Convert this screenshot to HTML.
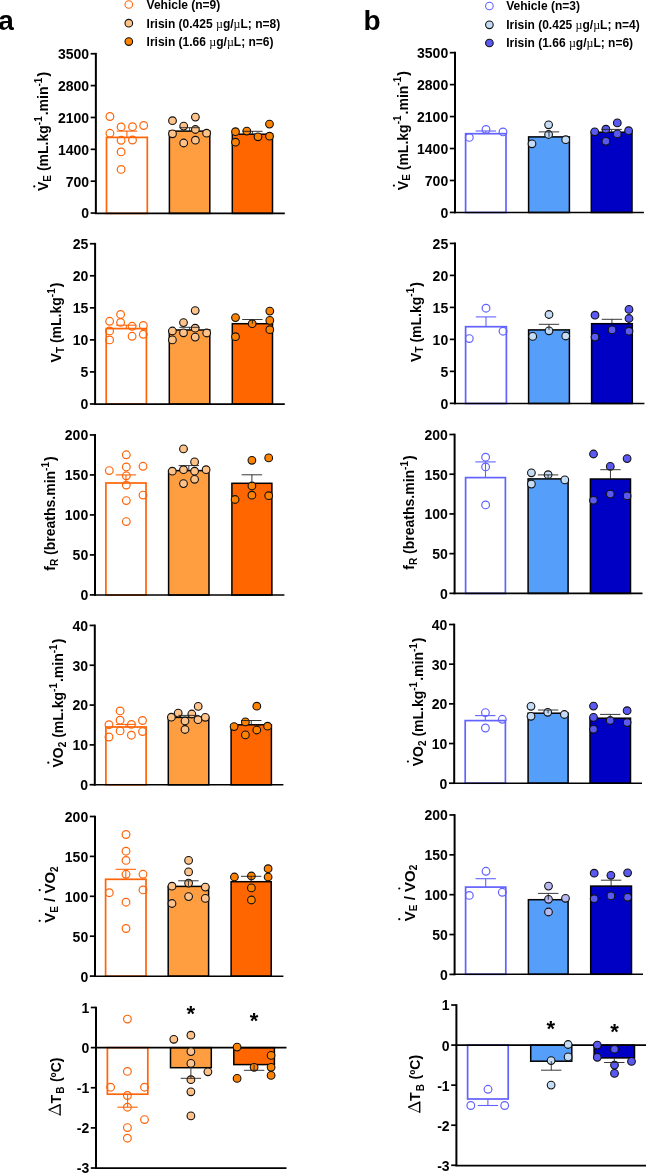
<!DOCTYPE html>
<html><head><meta charset="utf-8"><style>
html,body{margin:0;padding:0;background:#fff;overflow:hidden;}
svg{display:block;will-change:transform;}
text{font-family:"Liberation Sans", sans-serif;font-weight:bold;fill:#000;}
.tk{font-size:14px;}
.yt{font-size:14px;}
.lg{font-size:12px;}
.mu{font-weight:normal;font-family:"Liberation Serif",serif;}
.pl{font-size:28px;}
.star{font-size:22px;}
</style></head><body>
<svg width="647" height="1174" viewBox="0 0 647 1174">
<rect width="647" height="1174" fill="#fff"/>
<text x="-1.8" y="30" class="pl">a</text>
<text x="363.5" y="30" class="pl">b</text>
<circle cx="128.8" cy="4.5" r="3.8" fill="none" stroke="#FF6408" stroke-width="1.1"/>
<text x="146.6" y="8.8" class="lg">Vehicle (n=9)</text>
<circle cx="128.8" cy="23.2" r="3.8" fill="#FFC38A" stroke="#111" stroke-width="1.1"/>
<text x="146.6" y="27.5" class="lg">Irisin (0.425 <tspan class="mu">µ</tspan>g/<tspan class="mu">µ</tspan>L; n=8)</text>
<circle cx="128.8" cy="41.6" r="3.8" fill="#FF8200" stroke="#111" stroke-width="1.1"/>
<text x="146.6" y="45.9" class="lg">Irisin (1.66 <tspan class="mu">µ</tspan>g/<tspan class="mu">µ</tspan>L; n=6)</text>
<circle cx="489.4" cy="6.0" r="3.8" fill="none" stroke="#6262FF" stroke-width="1.1"/>
<text x="506.2" y="10.3" class="lg">Vehicle (n=3)</text>
<circle cx="489.4" cy="24.8" r="3.8" fill="#C5DCF7" stroke="#111" stroke-width="1.1"/>
<text x="506.2" y="29.1" class="lg">Irisin (0.425 <tspan class="mu">µ</tspan>g/<tspan class="mu">µ</tspan>L; n=4)</text>
<circle cx="489.4" cy="43.0" r="3.8" fill="#5A5AF2" stroke="#111" stroke-width="1.1"/>
<text x="506.2" y="47.3" class="lg">Irisin (1.66 <tspan class="mu">µ</tspan>g/<tspan class="mu">µ</tspan>L; n=6)</text>
<line x1="95.87" y1="52.89" x2="95.87" y2="213.9" stroke="#000" stroke-width="2"/>
<line x1="90.67" y1="53.74" x2="95.87" y2="53.74" stroke="#000" stroke-width="1.7"/>
<text x="89.07" y="59.14" text-anchor="end" class="tk">3500</text>
<line x1="90.67" y1="85.6" x2="95.87" y2="85.6" stroke="#000" stroke-width="1.7"/>
<text x="89.07" y="91" text-anchor="end" class="tk">2800</text>
<line x1="90.67" y1="117.46" x2="95.87" y2="117.46" stroke="#000" stroke-width="1.7"/>
<text x="89.07" y="122.86" text-anchor="end" class="tk">2100</text>
<line x1="90.67" y1="149.33" x2="95.87" y2="149.33" stroke="#000" stroke-width="1.7"/>
<text x="89.07" y="154.73" text-anchor="end" class="tk">1400</text>
<line x1="90.67" y1="181.19" x2="95.87" y2="181.19" stroke="#000" stroke-width="1.7"/>
<text x="89.07" y="186.59" text-anchor="end" class="tk">700</text>
<line x1="90.67" y1="213.05" x2="95.87" y2="213.05" stroke="#000" stroke-width="1.7"/>
<text x="89.07" y="218.45" text-anchor="end" class="tk">0</text>
<rect x="106.5" y="137.4" width="40.8" height="76" fill="#fff" stroke="#FF6408" stroke-width="1.7"/>
<rect x="169.4" y="131.1" width="40.4" height="82.3" fill="#FE9E40" stroke="#000" stroke-width="1.5"/>
<rect x="232.3" y="134.2" width="40.2" height="79.2" fill="#FF6600" stroke="#000" stroke-width="1.5"/>
<line x1="94.87" y1="213.4" x2="284.8" y2="213.4" stroke="#000" stroke-width="1.6"/>
<circle cx="109.9" cy="116.5" r="3.85" fill="none" stroke="#FF6408" stroke-width="1.2"/>
<circle cx="121.1" cy="126.9" r="3.85" fill="none" stroke="#FF6408" stroke-width="1.2"/>
<circle cx="132.5" cy="126.7" r="3.85" fill="none" stroke="#FF6408" stroke-width="1.2"/>
<circle cx="143.7" cy="125.5" r="3.85" fill="none" stroke="#FF6408" stroke-width="1.2"/>
<circle cx="109.9" cy="133.3" r="3.85" fill="none" stroke="#FF6408" stroke-width="1.2"/>
<circle cx="121.1" cy="140.3" r="3.85" fill="none" stroke="#FF6408" stroke-width="1.2"/>
<circle cx="132.5" cy="140" r="3.85" fill="none" stroke="#FF6408" stroke-width="1.2"/>
<circle cx="121.1" cy="151.9" r="3.85" fill="none" stroke="#FF6408" stroke-width="1.2"/>
<circle cx="121.1" cy="169.4" r="3.85" fill="none" stroke="#FF6408" stroke-width="1.2"/>
<circle cx="172.5" cy="120.7" r="3.85" fill="#FFC38A" stroke="#111" stroke-width="1.1"/>
<circle cx="195.4" cy="117.1" r="3.85" fill="#FFC38A" stroke="#111" stroke-width="1.1"/>
<circle cx="183.7" cy="126.1" r="3.85" fill="#FFC38A" stroke="#111" stroke-width="1.1"/>
<circle cx="195.4" cy="129.5" r="3.85" fill="#FFC38A" stroke="#111" stroke-width="1.1"/>
<circle cx="172.5" cy="133.8" r="3.85" fill="#FFC38A" stroke="#111" stroke-width="1.1"/>
<circle cx="206.6" cy="133.2" r="3.85" fill="#FFC38A" stroke="#111" stroke-width="1.1"/>
<circle cx="183.7" cy="143" r="3.85" fill="#FFC38A" stroke="#111" stroke-width="1.1"/>
<circle cx="195.4" cy="140.2" r="3.85" fill="#FFC38A" stroke="#111" stroke-width="1.1"/>
<circle cx="235.5" cy="131.7" r="3.85" fill="#FF8200" stroke="#111" stroke-width="1.1"/>
<circle cx="246.8" cy="131.1" r="3.85" fill="#FF8200" stroke="#111" stroke-width="1.1"/>
<circle cx="269.5" cy="124.1" r="3.85" fill="#FF8200" stroke="#111" stroke-width="1.1"/>
<circle cx="258" cy="136.8" r="3.85" fill="#FF8200" stroke="#111" stroke-width="1.1"/>
<circle cx="269.5" cy="136.2" r="3.85" fill="#FF8200" stroke="#111" stroke-width="1.1"/>
<circle cx="235.5" cy="142.2" r="3.85" fill="#FF8200" stroke="#111" stroke-width="1.1"/>
<line x1="126.9" y1="137.4" x2="126.9" y2="131.1" stroke="#FF6408" stroke-width="1.1"/>
<line x1="116.7" y1="131.1" x2="137.1" y2="131.1" stroke="#FF6408" stroke-width="1.1"/>
<line x1="189.6" y1="131.1" x2="189.6" y2="127.7" stroke="#222" stroke-width="0.9"/>
<line x1="179.4" y1="127.7" x2="199.8" y2="127.7" stroke="#222" stroke-width="0.9"/>
<line x1="252.4" y1="134.2" x2="252.4" y2="131.3" stroke="#222" stroke-width="0.9"/>
<line x1="242.2" y1="131.3" x2="262.6" y2="131.3" stroke="#222" stroke-width="0.9"/>
<line x1="95.1" y1="242.89" x2="95.1" y2="404.82" stroke="#000" stroke-width="2"/>
<line x1="89.9" y1="243.74" x2="95.1" y2="243.74" stroke="#000" stroke-width="1.7"/>
<text x="88.3" y="249.14" text-anchor="end" class="tk">25</text>
<line x1="89.9" y1="275.79" x2="95.1" y2="275.79" stroke="#000" stroke-width="1.7"/>
<text x="88.3" y="281.19" text-anchor="end" class="tk">20</text>
<line x1="89.9" y1="307.83" x2="95.1" y2="307.83" stroke="#000" stroke-width="1.7"/>
<text x="88.3" y="313.23" text-anchor="end" class="tk">15</text>
<line x1="89.9" y1="339.88" x2="95.1" y2="339.88" stroke="#000" stroke-width="1.7"/>
<text x="88.3" y="345.28" text-anchor="end" class="tk">10</text>
<line x1="89.9" y1="371.92" x2="95.1" y2="371.92" stroke="#000" stroke-width="1.7"/>
<text x="88.3" y="377.32" text-anchor="end" class="tk">5</text>
<line x1="89.9" y1="403.97" x2="95.1" y2="403.97" stroke="#000" stroke-width="1.7"/>
<text x="88.3" y="409.37" text-anchor="end" class="tk">0</text>
<rect x="106.2" y="328.6" width="40.2" height="75.5" fill="#fff" stroke="#FF6408" stroke-width="1.7"/>
<rect x="169.3" y="330" width="40.5" height="74.1" fill="#FE9E40" stroke="#000" stroke-width="1.5"/>
<rect x="232.3" y="323.7" width="40.2" height="80.4" fill="#FF6600" stroke="#000" stroke-width="1.5"/>
<line x1="94.1" y1="404.1" x2="284.8" y2="404.1" stroke="#000" stroke-width="1.6"/>
<circle cx="109.6" cy="321.3" r="3.85" fill="none" stroke="#FF6408" stroke-width="1.2"/>
<circle cx="120.6" cy="314.4" r="3.85" fill="none" stroke="#FF6408" stroke-width="1.2"/>
<circle cx="120.6" cy="322.4" r="3.85" fill="none" stroke="#FF6408" stroke-width="1.2"/>
<circle cx="132.1" cy="326.3" r="3.85" fill="none" stroke="#FF6408" stroke-width="1.2"/>
<circle cx="143.3" cy="325.5" r="3.85" fill="none" stroke="#FF6408" stroke-width="1.2"/>
<circle cx="109.6" cy="330.9" r="3.85" fill="none" stroke="#FF6408" stroke-width="1.2"/>
<circle cx="109.6" cy="339.9" r="3.85" fill="none" stroke="#FF6408" stroke-width="1.2"/>
<circle cx="132.1" cy="336.3" r="3.85" fill="none" stroke="#FF6408" stroke-width="1.2"/>
<circle cx="143.3" cy="334.3" r="3.85" fill="none" stroke="#FF6408" stroke-width="1.2"/>
<circle cx="195.2" cy="310.6" r="3.85" fill="#FFC38A" stroke="#111" stroke-width="1.1"/>
<circle cx="183.5" cy="322.6" r="3.85" fill="#FFC38A" stroke="#111" stroke-width="1.1"/>
<circle cx="195.2" cy="328.2" r="3.85" fill="#FFC38A" stroke="#111" stroke-width="1.1"/>
<circle cx="172.4" cy="331" r="3.85" fill="#FFC38A" stroke="#111" stroke-width="1.1"/>
<circle cx="183.5" cy="332.8" r="3.85" fill="#FFC38A" stroke="#111" stroke-width="1.1"/>
<circle cx="206.7" cy="333" r="3.85" fill="#FFC38A" stroke="#111" stroke-width="1.1"/>
<circle cx="195.2" cy="337.1" r="3.85" fill="#FFC38A" stroke="#111" stroke-width="1.1"/>
<circle cx="172.4" cy="339.9" r="3.85" fill="#FFC38A" stroke="#111" stroke-width="1.1"/>
<circle cx="235.5" cy="317.6" r="3.85" fill="#FF8200" stroke="#111" stroke-width="1.1"/>
<circle cx="252.2" cy="323.7" r="3.85" fill="#FF8200" stroke="#111" stroke-width="1.1"/>
<circle cx="269.8" cy="311.1" r="3.85" fill="#FF8200" stroke="#111" stroke-width="1.1"/>
<circle cx="269.8" cy="320.4" r="3.85" fill="#FF8200" stroke="#111" stroke-width="1.1"/>
<circle cx="269.8" cy="329.7" r="3.85" fill="#FF8200" stroke="#111" stroke-width="1.1"/>
<circle cx="235.5" cy="336.7" r="3.85" fill="#FF8200" stroke="#111" stroke-width="1.1"/>
<line x1="126.3" y1="328.6" x2="126.3" y2="325.2" stroke="#FF6408" stroke-width="1.1"/>
<line x1="116.1" y1="325.2" x2="136.5" y2="325.2" stroke="#FF6408" stroke-width="1.1"/>
<line x1="189.55" y1="330" x2="189.55" y2="327.3" stroke="#222" stroke-width="0.9"/>
<line x1="179.35" y1="327.3" x2="199.75" y2="327.3" stroke="#222" stroke-width="0.9"/>
<line x1="252.4" y1="323.7" x2="252.4" y2="319.5" stroke="#222" stroke-width="0.9"/>
<line x1="242.2" y1="319.5" x2="262.6" y2="319.5" stroke="#222" stroke-width="0.9"/>
<line x1="95" y1="434.12" x2="95" y2="595.75" stroke="#000" stroke-width="2"/>
<line x1="89.8" y1="434.97" x2="95" y2="434.97" stroke="#000" stroke-width="1.7"/>
<text x="88.2" y="440.37" text-anchor="end" class="tk">200</text>
<line x1="89.8" y1="474.95" x2="95" y2="474.95" stroke="#000" stroke-width="1.7"/>
<text x="88.2" y="480.35" text-anchor="end" class="tk">150</text>
<line x1="89.8" y1="514.93" x2="95" y2="514.93" stroke="#000" stroke-width="1.7"/>
<text x="88.2" y="520.33" text-anchor="end" class="tk">100</text>
<line x1="89.8" y1="554.92" x2="95" y2="554.92" stroke="#000" stroke-width="1.7"/>
<text x="88.2" y="560.32" text-anchor="end" class="tk">50</text>
<line x1="89.8" y1="594.9" x2="95" y2="594.9" stroke="#000" stroke-width="1.7"/>
<text x="88.2" y="600.3" text-anchor="end" class="tk">0</text>
<rect x="105.9" y="483" width="40.1" height="112.05" fill="#fff" stroke="#FF6408" stroke-width="1.7"/>
<rect x="168.6" y="470.6" width="40.4" height="124.45" fill="#FE9E40" stroke="#000" stroke-width="1.5"/>
<rect x="231.9" y="483.3" width="40" height="111.75" fill="#FF6600" stroke="#000" stroke-width="1.5"/>
<line x1="94" y1="595.05" x2="284.4" y2="595.05" stroke="#000" stroke-width="1.6"/>
<circle cx="126.3" cy="454.8" r="3.85" fill="none" stroke="#FF6408" stroke-width="1.2"/>
<circle cx="109.3" cy="470.6" r="3.85" fill="none" stroke="#FF6408" stroke-width="1.2"/>
<circle cx="126.3" cy="466.9" r="3.85" fill="none" stroke="#FF6408" stroke-width="1.2"/>
<circle cx="143" cy="466.3" r="3.85" fill="none" stroke="#FF6408" stroke-width="1.2"/>
<circle cx="126.3" cy="475.8" r="3.85" fill="none" stroke="#FF6408" stroke-width="1.2"/>
<circle cx="126.3" cy="485.1" r="3.85" fill="none" stroke="#FF6408" stroke-width="1.2"/>
<circle cx="143" cy="495.1" r="3.85" fill="none" stroke="#FF6408" stroke-width="1.2"/>
<circle cx="126.3" cy="500.6" r="3.85" fill="none" stroke="#FF6408" stroke-width="1.2"/>
<circle cx="126.3" cy="521.6" r="3.85" fill="none" stroke="#FF6408" stroke-width="1.2"/>
<circle cx="183.5" cy="448.9" r="3.85" fill="#FFC38A" stroke="#111" stroke-width="1.1"/>
<circle cx="194.6" cy="461.9" r="3.85" fill="#FFC38A" stroke="#111" stroke-width="1.1"/>
<circle cx="172.3" cy="471.2" r="3.85" fill="#FFC38A" stroke="#111" stroke-width="1.1"/>
<circle cx="183.5" cy="469.7" r="3.85" fill="#FFC38A" stroke="#111" stroke-width="1.1"/>
<circle cx="194.6" cy="471.2" r="3.85" fill="#FFC38A" stroke="#111" stroke-width="1.1"/>
<circle cx="206.1" cy="469.7" r="3.85" fill="#FFC38A" stroke="#111" stroke-width="1.1"/>
<circle cx="194.6" cy="479.3" r="3.85" fill="#FFC38A" stroke="#111" stroke-width="1.1"/>
<circle cx="183.5" cy="483.6" r="3.85" fill="#FFC38A" stroke="#111" stroke-width="1.1"/>
<circle cx="251.9" cy="460.3" r="3.85" fill="#FF8200" stroke="#111" stroke-width="1.1"/>
<circle cx="268.7" cy="457.9" r="3.85" fill="#FF8200" stroke="#111" stroke-width="1.1"/>
<circle cx="251.9" cy="486" r="3.85" fill="#FF8200" stroke="#111" stroke-width="1.1"/>
<circle cx="251.9" cy="495.2" r="3.85" fill="#FF8200" stroke="#111" stroke-width="1.1"/>
<circle cx="268.7" cy="495.7" r="3.85" fill="#FF8200" stroke="#111" stroke-width="1.1"/>
<circle cx="235.1" cy="499.5" r="3.85" fill="#FF8200" stroke="#111" stroke-width="1.1"/>
<line x1="125.95" y1="483" x2="125.95" y2="474.9" stroke="#FF6408" stroke-width="1.1"/>
<line x1="115.75" y1="474.9" x2="136.15" y2="474.9" stroke="#FF6408" stroke-width="1.1"/>
<line x1="188.8" y1="470.6" x2="188.8" y2="465.6" stroke="#222" stroke-width="0.9"/>
<line x1="178.6" y1="465.6" x2="199" y2="465.6" stroke="#222" stroke-width="0.9"/>
<line x1="251.9" y1="483.3" x2="251.9" y2="474.8" stroke="#222" stroke-width="0.9"/>
<line x1="241.7" y1="474.8" x2="262.1" y2="474.8" stroke="#222" stroke-width="0.9"/>
<line x1="94.8" y1="624.58" x2="94.8" y2="785.58" stroke="#000" stroke-width="2"/>
<line x1="89.6" y1="625.43" x2="94.8" y2="625.43" stroke="#000" stroke-width="1.7"/>
<text x="88" y="630.83" text-anchor="end" class="tk">40</text>
<line x1="89.6" y1="665.25" x2="94.8" y2="665.25" stroke="#000" stroke-width="1.7"/>
<text x="88" y="670.65" text-anchor="end" class="tk">30</text>
<line x1="89.6" y1="705.08" x2="94.8" y2="705.08" stroke="#000" stroke-width="1.7"/>
<text x="88" y="710.48" text-anchor="end" class="tk">20</text>
<line x1="89.6" y1="744.9" x2="94.8" y2="744.9" stroke="#000" stroke-width="1.7"/>
<text x="88" y="750.3" text-anchor="end" class="tk">10</text>
<line x1="89.6" y1="784.73" x2="94.8" y2="784.73" stroke="#000" stroke-width="1.7"/>
<text x="88" y="790.13" text-anchor="end" class="tk">0</text>
<rect x="105.9" y="727" width="40.2" height="57.8" fill="#fff" stroke="#FF6408" stroke-width="1.7"/>
<rect x="168.3" y="717.4" width="40.5" height="67.4" fill="#FE9E40" stroke="#000" stroke-width="1.5"/>
<rect x="231.1" y="724.8" width="40.3" height="60" fill="#FF6600" stroke="#000" stroke-width="1.5"/>
<line x1="93.8" y1="784.8" x2="283.4" y2="784.8" stroke="#000" stroke-width="1.6"/>
<circle cx="120.1" cy="710.9" r="3.85" fill="none" stroke="#FF6408" stroke-width="1.2"/>
<circle cx="120.1" cy="720.2" r="3.85" fill="none" stroke="#FF6408" stroke-width="1.2"/>
<circle cx="109" cy="724.7" r="3.85" fill="none" stroke="#FF6408" stroke-width="1.2"/>
<circle cx="131.4" cy="724.4" r="3.85" fill="none" stroke="#FF6408" stroke-width="1.2"/>
<circle cx="142.5" cy="720.5" r="3.85" fill="none" stroke="#FF6408" stroke-width="1.2"/>
<circle cx="120.1" cy="730.9" r="3.85" fill="none" stroke="#FF6408" stroke-width="1.2"/>
<circle cx="109" cy="737" r="3.85" fill="none" stroke="#FF6408" stroke-width="1.2"/>
<circle cx="131.4" cy="735.2" r="3.85" fill="none" stroke="#FF6408" stroke-width="1.2"/>
<circle cx="142.5" cy="731.6" r="3.85" fill="none" stroke="#FF6408" stroke-width="1.2"/>
<circle cx="171.4" cy="717.2" r="3.85" fill="#FFC38A" stroke="#111" stroke-width="1.1"/>
<circle cx="178.2" cy="713.1" r="3.85" fill="#FFC38A" stroke="#111" stroke-width="1.1"/>
<circle cx="191.8" cy="714" r="3.85" fill="#FFC38A" stroke="#111" stroke-width="1.1"/>
<circle cx="198.2" cy="706.4" r="3.85" fill="#FFC38A" stroke="#111" stroke-width="1.1"/>
<circle cx="185" cy="721" r="3.85" fill="#FFC38A" stroke="#111" stroke-width="1.1"/>
<circle cx="198" cy="719.7" r="3.85" fill="#FFC38A" stroke="#111" stroke-width="1.1"/>
<circle cx="205.3" cy="717.3" r="3.85" fill="#FFC38A" stroke="#111" stroke-width="1.1"/>
<circle cx="185" cy="729.5" r="3.85" fill="#FFC38A" stroke="#111" stroke-width="1.1"/>
<circle cx="256.8" cy="706.2" r="3.85" fill="#FF8200" stroke="#111" stroke-width="1.1"/>
<circle cx="245.4" cy="721.9" r="3.85" fill="#FF8200" stroke="#111" stroke-width="1.1"/>
<circle cx="234.1" cy="726.6" r="3.85" fill="#FF8200" stroke="#111" stroke-width="1.1"/>
<circle cx="267.6" cy="726.2" r="3.85" fill="#FF8200" stroke="#111" stroke-width="1.1"/>
<circle cx="256.8" cy="730" r="3.85" fill="#FF8200" stroke="#111" stroke-width="1.1"/>
<circle cx="245.4" cy="734.9" r="3.85" fill="#FF8200" stroke="#111" stroke-width="1.1"/>
<line x1="126" y1="727" x2="126" y2="724.4" stroke="#FF6408" stroke-width="1.1"/>
<line x1="115.8" y1="724.4" x2="136.2" y2="724.4" stroke="#FF6408" stroke-width="1.1"/>
<line x1="188.55" y1="717.4" x2="188.55" y2="715.4" stroke="#222" stroke-width="0.9"/>
<line x1="178.35" y1="715.4" x2="198.75" y2="715.4" stroke="#222" stroke-width="0.9"/>
<line x1="251.25" y1="724.8" x2="251.25" y2="720.5" stroke="#222" stroke-width="0.9"/>
<line x1="241.05" y1="720.5" x2="261.45" y2="720.5" stroke="#222" stroke-width="0.9"/>
<line x1="95" y1="815.65" x2="95" y2="976.95" stroke="#000" stroke-width="2"/>
<line x1="89.8" y1="816.5" x2="95" y2="816.5" stroke="#000" stroke-width="1.7"/>
<text x="88.2" y="821.9" text-anchor="end" class="tk">200</text>
<line x1="89.8" y1="856.4" x2="95" y2="856.4" stroke="#000" stroke-width="1.7"/>
<text x="88.2" y="861.8" text-anchor="end" class="tk">150</text>
<line x1="89.8" y1="896.3" x2="95" y2="896.3" stroke="#000" stroke-width="1.7"/>
<text x="88.2" y="901.7" text-anchor="end" class="tk">100</text>
<line x1="89.8" y1="936.2" x2="95" y2="936.2" stroke="#000" stroke-width="1.7"/>
<text x="88.2" y="941.6" text-anchor="end" class="tk">50</text>
<line x1="89.8" y1="976.1" x2="95" y2="976.1" stroke="#000" stroke-width="1.7"/>
<text x="88.2" y="981.5" text-anchor="end" class="tk">0</text>
<rect x="105.6" y="879.3" width="40.4" height="96.9" fill="#fff" stroke="#FF6408" stroke-width="1.7"/>
<rect x="168.2" y="886.4" width="40.4" height="89.8" fill="#FE9E40" stroke="#000" stroke-width="1.5"/>
<rect x="231.1" y="881.7" width="40.1" height="94.5" fill="#FF6600" stroke="#000" stroke-width="1.5"/>
<line x1="94" y1="976.2" x2="283.4" y2="976.2" stroke="#000" stroke-width="1.6"/>
<circle cx="126" cy="834.5" r="3.85" fill="none" stroke="#FF6408" stroke-width="1.2"/>
<circle cx="126" cy="851.2" r="3.85" fill="none" stroke="#FF6408" stroke-width="1.2"/>
<circle cx="126" cy="860.4" r="3.85" fill="none" stroke="#FF6408" stroke-width="1.2"/>
<circle cx="126" cy="874.3" r="3.85" fill="none" stroke="#FF6408" stroke-width="1.2"/>
<circle cx="143" cy="874.3" r="3.85" fill="none" stroke="#FF6408" stroke-width="1.2"/>
<circle cx="109.3" cy="892.7" r="3.85" fill="none" stroke="#FF6408" stroke-width="1.2"/>
<circle cx="143" cy="889.9" r="3.85" fill="none" stroke="#FF6408" stroke-width="1.2"/>
<circle cx="126" cy="902.2" r="3.85" fill="none" stroke="#FF6408" stroke-width="1.2"/>
<circle cx="126" cy="928.5" r="3.85" fill="none" stroke="#FF6408" stroke-width="1.2"/>
<circle cx="188.6" cy="860.4" r="3.85" fill="#FFC38A" stroke="#111" stroke-width="1.1"/>
<circle cx="188.6" cy="871.9" r="3.85" fill="#FFC38A" stroke="#111" stroke-width="1.1"/>
<circle cx="188.6" cy="883.1" r="3.85" fill="#FFC38A" stroke="#111" stroke-width="1.1"/>
<circle cx="172" cy="886.2" r="3.85" fill="#FFC38A" stroke="#111" stroke-width="1.1"/>
<circle cx="205.3" cy="887.1" r="3.85" fill="#FFC38A" stroke="#111" stroke-width="1.1"/>
<circle cx="188.6" cy="896.6" r="3.85" fill="#FFC38A" stroke="#111" stroke-width="1.1"/>
<circle cx="205.3" cy="898.4" r="3.85" fill="#FFC38A" stroke="#111" stroke-width="1.1"/>
<circle cx="172" cy="903.5" r="3.85" fill="#FFC38A" stroke="#111" stroke-width="1.1"/>
<circle cx="234.4" cy="877" r="3.85" fill="#FF8200" stroke="#111" stroke-width="1.1"/>
<circle cx="251.4" cy="876" r="3.85" fill="#FF8200" stroke="#111" stroke-width="1.1"/>
<circle cx="268.1" cy="868.7" r="3.85" fill="#FF8200" stroke="#111" stroke-width="1.1"/>
<circle cx="268.1" cy="877" r="3.85" fill="#FF8200" stroke="#111" stroke-width="1.1"/>
<circle cx="251.4" cy="887.9" r="3.85" fill="#FF8200" stroke="#111" stroke-width="1.1"/>
<circle cx="251.4" cy="900" r="3.85" fill="#FF8200" stroke="#111" stroke-width="1.1"/>
<line x1="125.8" y1="879.3" x2="125.8" y2="869.3" stroke="#FF6408" stroke-width="1.1"/>
<line x1="115.6" y1="869.3" x2="136" y2="869.3" stroke="#FF6408" stroke-width="1.1"/>
<line x1="188.4" y1="886.4" x2="188.4" y2="880.8" stroke="#222" stroke-width="0.9"/>
<line x1="178.2" y1="880.8" x2="198.6" y2="880.8" stroke="#222" stroke-width="0.9"/>
<line x1="251.15" y1="881.7" x2="251.15" y2="876.3" stroke="#222" stroke-width="0.9"/>
<line x1="240.95" y1="876.3" x2="261.35" y2="876.3" stroke="#222" stroke-width="0.9"/>
<line x1="96" y1="1006.65" x2="96" y2="1168.88" stroke="#000" stroke-width="2"/>
<line x1="90.8" y1="1007.5" x2="96" y2="1007.5" stroke="#000" stroke-width="1.7"/>
<text x="89.2" y="1012.9" text-anchor="end" class="tk">1</text>
<line x1="90.8" y1="1047.63" x2="96" y2="1047.63" stroke="#000" stroke-width="1.7"/>
<text x="89.2" y="1053.03" text-anchor="end" class="tk">0</text>
<line x1="90.8" y1="1087.76" x2="96" y2="1087.76" stroke="#000" stroke-width="1.7"/>
<text x="89.2" y="1093.16" text-anchor="end" class="tk">-1</text>
<line x1="90.8" y1="1127.9" x2="96" y2="1127.9" stroke="#000" stroke-width="1.7"/>
<text x="89.2" y="1133.3" text-anchor="end" class="tk">-2</text>
<line x1="90.8" y1="1168.03" x2="96" y2="1168.03" stroke="#000" stroke-width="1.7"/>
<text x="89.2" y="1173.43" text-anchor="end" class="tk">-3</text>
<rect x="107.4" y="1047.63" width="40.4" height="46.57" fill="#fff" stroke="#FF6408" stroke-width="1.7"/>
<rect x="170.5" y="1047.63" width="40.8" height="20.07" fill="#FE9E40" stroke="#000" stroke-width="1.5"/>
<rect x="233.8" y="1047.63" width="40.6" height="16.97" fill="#FF6600" stroke="#000" stroke-width="1.5"/>
<line x1="95" y1="1047.63" x2="286.5" y2="1047.63" stroke="#000" stroke-width="1.6"/>
<line x1="95" y1="1168.1" x2="286.5" y2="1168.1" stroke="#000" stroke-width="1.6"/>
<circle cx="127.4" cy="1019.1" r="3.85" fill="none" stroke="#FF6408" stroke-width="1.2"/>
<circle cx="127.4" cy="1071.4" r="3.85" fill="none" stroke="#FF6408" stroke-width="1.2"/>
<circle cx="110.6" cy="1087.2" r="3.85" fill="none" stroke="#FF6408" stroke-width="1.2"/>
<circle cx="144.5" cy="1087.2" r="3.85" fill="none" stroke="#FF6408" stroke-width="1.2"/>
<circle cx="127.4" cy="1095.5" r="3.85" fill="none" stroke="#FF6408" stroke-width="1.2"/>
<circle cx="127.4" cy="1107.2" r="3.85" fill="none" stroke="#FF6408" stroke-width="1.2"/>
<circle cx="144.5" cy="1119.6" r="3.85" fill="none" stroke="#FF6408" stroke-width="1.2"/>
<circle cx="127.4" cy="1127.6" r="3.85" fill="none" stroke="#FF6408" stroke-width="1.2"/>
<circle cx="127.4" cy="1138.2" r="3.85" fill="none" stroke="#FF6408" stroke-width="1.2"/>
<circle cx="173.8" cy="1039.3" r="3.85" fill="#FFC38A" stroke="#111" stroke-width="1.1"/>
<circle cx="190.9" cy="1035.2" r="3.85" fill="#FFC38A" stroke="#111" stroke-width="1.1"/>
<circle cx="190.9" cy="1051.6" r="3.85" fill="#FFC38A" stroke="#111" stroke-width="1.1"/>
<circle cx="190.9" cy="1063.4" r="3.85" fill="#FFC38A" stroke="#111" stroke-width="1.1"/>
<circle cx="207.9" cy="1071.8" r="3.85" fill="#FFC38A" stroke="#111" stroke-width="1.1"/>
<circle cx="190.9" cy="1079.7" r="3.85" fill="#FFC38A" stroke="#111" stroke-width="1.1"/>
<circle cx="190.9" cy="1091.8" r="3.85" fill="#FFC38A" stroke="#111" stroke-width="1.1"/>
<circle cx="190.9" cy="1115.9" r="3.85" fill="#FFC38A" stroke="#111" stroke-width="1.1"/>
<circle cx="237.1" cy="1047.1" r="3.85" fill="#FF8200" stroke="#111" stroke-width="1.1"/>
<circle cx="271.1" cy="1055.4" r="3.85" fill="#FF8200" stroke="#111" stroke-width="1.1"/>
<circle cx="254.1" cy="1067.3" r="3.85" fill="#FF8200" stroke="#111" stroke-width="1.1"/>
<circle cx="271.1" cy="1067.3" r="3.85" fill="#FF8200" stroke="#111" stroke-width="1.1"/>
<circle cx="271.1" cy="1075.4" r="3.85" fill="#FF8200" stroke="#111" stroke-width="1.1"/>
<circle cx="237.1" cy="1078.4" r="3.85" fill="#FF8200" stroke="#111" stroke-width="1.1"/>
<line x1="127.6" y1="1094.2" x2="127.6" y2="1107.2" stroke="#FF6408" stroke-width="1.1"/>
<line x1="117.4" y1="1107.2" x2="137.8" y2="1107.2" stroke="#FF6408" stroke-width="1.1"/>
<line x1="190.9" y1="1067.7" x2="190.9" y2="1078.3" stroke="#222" stroke-width="0.9"/>
<line x1="180.7" y1="1078.3" x2="201.1" y2="1078.3" stroke="#222" stroke-width="0.9"/>
<line x1="254.1" y1="1064.6" x2="254.1" y2="1070.3" stroke="#222" stroke-width="0.9"/>
<line x1="243.9" y1="1070.3" x2="264.3" y2="1070.3" stroke="#222" stroke-width="0.9"/>
<text x="190.9" y="1021.2" text-anchor="middle" class="star">*</text>
<text x="254.1" y="1028.3" text-anchor="middle" class="star">*</text>
<text transform="translate(47.9,191) rotate(-90)" class="yt">V<tspan font-size="10" dy="2.8">E</tspan><tspan dy="-2.8"> (mL.kg</tspan><tspan font-size="10" dy="-6.2">-1</tspan><tspan dy="6.2" dx="1">.min</tspan><tspan font-size="10" dy="-6.2">-1</tspan><tspan dy="6.2" dx="1">)</tspan></text>
<circle cx="34.3" cy="186.4" r="1.1" fill="#000"/>
<text transform="translate(61,362.4) rotate(-90)" class="yt">V<tspan font-size="10" dy="2.8">T</tspan><tspan dy="-2.8"> (mL.kg</tspan><tspan font-size="10" dy="-6.2">-1</tspan><tspan dy="6.2" dx="1">)</tspan></text>
<text transform="translate(54.8,570.7) rotate(-90)" class="yt">f<tspan font-size="10" dy="2.8">R</tspan><tspan dy="-2.8"> (breaths.min</tspan><tspan font-size="10" dy="-6.2">-1</tspan><tspan dy="6.2" dx="1">)</tspan></text>
<text transform="translate(63.2,767.5) rotate(-90)" class="yt">VO<tspan font-size="10" dy="2.8">2</tspan><tspan dy="-2.8"> (mL.kg</tspan><tspan font-size="10" dy="-6.2">-1</tspan><tspan dy="6.2" dx="1">.min</tspan><tspan font-size="10" dy="-6.2">-1</tspan><tspan dy="6.2" dx="1">)</tspan></text>
<circle cx="48.3" cy="762.7" r="1.1" fill="#000"/>
<text transform="translate(55,922.8) rotate(-90)" class="yt" style="font-size:15px">V<tspan font-size="10" dy="2.8">E</tspan><tspan dy="-2.8"> / VO</tspan><tspan font-size="10" dy="2.8">2</tspan></text>
<circle cx="39.7" cy="920.8" r="1.1" fill="#000"/>
<circle cx="39.7" cy="890.1" r="1.1" fill="#000"/>
<path d="M48.7,1109.9 L60.3,1104.8" stroke="#000" stroke-width="1.5" fill="none"/>
<path d="M48.7,1109.9 L60.3,1114.9" stroke="#000" stroke-width="0.8" fill="none"/>
<path d="M60.1,1104.2 L60.1,1115.4" stroke="#000" stroke-width="1.4" fill="none"/>
<text transform="translate(60.7,1103.6) rotate(-90)" class="yt">T<tspan font-size="10" dy="3.2" dx="1.3">B</tspan><tspan dy="-3.2" dx="0.5"> (</tspan>ºC)</text>
<line x1="455" y1="51.82" x2="455" y2="213.28" stroke="#000" stroke-width="2"/>
<line x1="449.8" y1="52.67" x2="455" y2="52.67" stroke="#000" stroke-width="1.7"/>
<text x="448.2" y="58.07" text-anchor="end" class="tk">3500</text>
<line x1="449.8" y1="84.62" x2="455" y2="84.62" stroke="#000" stroke-width="1.7"/>
<text x="448.2" y="90.02" text-anchor="end" class="tk">2800</text>
<line x1="449.8" y1="116.57" x2="455" y2="116.57" stroke="#000" stroke-width="1.7"/>
<text x="448.2" y="121.97" text-anchor="end" class="tk">2100</text>
<line x1="449.8" y1="148.53" x2="455" y2="148.53" stroke="#000" stroke-width="1.7"/>
<text x="448.2" y="153.93" text-anchor="end" class="tk">1400</text>
<line x1="449.8" y1="180.48" x2="455" y2="180.48" stroke="#000" stroke-width="1.7"/>
<text x="448.2" y="185.88" text-anchor="end" class="tk">700</text>
<line x1="449.8" y1="212.43" x2="455" y2="212.43" stroke="#000" stroke-width="1.7"/>
<text x="448.2" y="217.83" text-anchor="end" class="tk">0</text>
<rect x="465.6" y="133.7" width="40.4" height="78.8" fill="#fff" stroke="#6262FF" stroke-width="1.7"/>
<rect x="528.6" y="136.9" width="40.8" height="75.6" fill="#559FFA" stroke="#000" stroke-width="1.5"/>
<rect x="591.3" y="132.2" width="40.7" height="80.3" fill="#0000C4" stroke="#000" stroke-width="1.5"/>
<line x1="454" y1="212.5" x2="643.9" y2="212.5" stroke="#000" stroke-width="1.6"/>
<circle cx="469.3" cy="137.4" r="3.85" fill="none" stroke="#6262FF" stroke-width="1.2"/>
<circle cx="486" cy="129.5" r="3.85" fill="none" stroke="#6262FF" stroke-width="1.2"/>
<circle cx="503" cy="131.9" r="3.85" fill="none" stroke="#6262FF" stroke-width="1.2"/>
<circle cx="548.6" cy="124.8" r="3.85" fill="#C5DCF7" stroke="#111" stroke-width="1.1"/>
<circle cx="548.6" cy="134.5" r="3.85" fill="#C5DCF7" stroke="#111" stroke-width="1.1"/>
<circle cx="532" cy="143.8" r="3.85" fill="#C5DCF7" stroke="#111" stroke-width="1.1"/>
<circle cx="565.7" cy="139.7" r="3.85" fill="#C5DCF7" stroke="#111" stroke-width="1.1"/>
<circle cx="594.7" cy="131.8" r="3.85" fill="#5A5AF2" stroke="#111" stroke-width="1.1"/>
<circle cx="605.9" cy="129.2" r="3.85" fill="#5A5AF2" stroke="#111" stroke-width="1.1"/>
<circle cx="617.3" cy="122.9" r="3.85" fill="#5A5AF2" stroke="#111" stroke-width="1.1"/>
<circle cx="617.3" cy="133.9" r="3.85" fill="#5A5AF2" stroke="#111" stroke-width="1.1"/>
<circle cx="628.6" cy="130.7" r="3.85" fill="#5A5AF2" stroke="#111" stroke-width="1.1"/>
<circle cx="605.9" cy="141.3" r="3.85" fill="#5A5AF2" stroke="#111" stroke-width="1.1"/>
<line x1="485.8" y1="133.7" x2="485.8" y2="131" stroke="#6262FF" stroke-width="1.1"/>
<line x1="475.6" y1="131" x2="496" y2="131" stroke="#6262FF" stroke-width="1.1"/>
<line x1="549" y1="136.9" x2="549" y2="131.9" stroke="#222" stroke-width="0.9"/>
<line x1="538.8" y1="131.9" x2="559.2" y2="131.9" stroke="#222" stroke-width="0.9"/>
<line x1="611.65" y1="132.2" x2="611.65" y2="129.4" stroke="#222" stroke-width="0.9"/>
<line x1="601.45" y1="129.4" x2="621.85" y2="129.4" stroke="#222" stroke-width="0.9"/>
<line x1="455" y1="242.58" x2="455" y2="404.2" stroke="#000" stroke-width="2"/>
<line x1="449.8" y1="243.43" x2="455" y2="243.43" stroke="#000" stroke-width="1.7"/>
<text x="448.2" y="248.83" text-anchor="end" class="tk">25</text>
<line x1="449.8" y1="275.41" x2="455" y2="275.41" stroke="#000" stroke-width="1.7"/>
<text x="448.2" y="280.81" text-anchor="end" class="tk">20</text>
<line x1="449.8" y1="307.4" x2="455" y2="307.4" stroke="#000" stroke-width="1.7"/>
<text x="448.2" y="312.8" text-anchor="end" class="tk">15</text>
<line x1="449.8" y1="339.38" x2="455" y2="339.38" stroke="#000" stroke-width="1.7"/>
<text x="448.2" y="344.78" text-anchor="end" class="tk">10</text>
<line x1="449.8" y1="371.37" x2="455" y2="371.37" stroke="#000" stroke-width="1.7"/>
<text x="448.2" y="376.77" text-anchor="end" class="tk">5</text>
<line x1="449.8" y1="403.35" x2="455" y2="403.35" stroke="#000" stroke-width="1.7"/>
<text x="448.2" y="408.75" text-anchor="end" class="tk">0</text>
<rect x="465.6" y="326.7" width="40.8" height="76.8" fill="#fff" stroke="#6262FF" stroke-width="1.7"/>
<rect x="528.6" y="329.9" width="40.8" height="73.6" fill="#559FFA" stroke="#000" stroke-width="1.5"/>
<rect x="591.6" y="323.7" width="40.7" height="79.8" fill="#0000C4" stroke="#000" stroke-width="1.5"/>
<line x1="454" y1="403.5" x2="644.4" y2="403.5" stroke="#000" stroke-width="1.6"/>
<circle cx="486" cy="308.2" r="3.85" fill="none" stroke="#6262FF" stroke-width="1.2"/>
<circle cx="503" cy="331.2" r="3.85" fill="none" stroke="#6262FF" stroke-width="1.2"/>
<circle cx="469.3" cy="338.6" r="3.85" fill="none" stroke="#6262FF" stroke-width="1.2"/>
<circle cx="549" cy="314.5" r="3.85" fill="#C5DCF7" stroke="#111" stroke-width="1.1"/>
<circle cx="549" cy="330.8" r="3.85" fill="#C5DCF7" stroke="#111" stroke-width="1.1"/>
<circle cx="532.7" cy="336.4" r="3.85" fill="#C5DCF7" stroke="#111" stroke-width="1.1"/>
<circle cx="565.7" cy="336" r="3.85" fill="#C5DCF7" stroke="#111" stroke-width="1.1"/>
<circle cx="595" cy="315.2" r="3.85" fill="#5A5AF2" stroke="#111" stroke-width="1.1"/>
<circle cx="629" cy="309.4" r="3.85" fill="#5A5AF2" stroke="#111" stroke-width="1.1"/>
<circle cx="629" cy="318.5" r="3.85" fill="#5A5AF2" stroke="#111" stroke-width="1.1"/>
<circle cx="612.1" cy="329.9" r="3.85" fill="#5A5AF2" stroke="#111" stroke-width="1.1"/>
<circle cx="629" cy="331.2" r="3.85" fill="#5A5AF2" stroke="#111" stroke-width="1.1"/>
<circle cx="595" cy="337.1" r="3.85" fill="#5A5AF2" stroke="#111" stroke-width="1.1"/>
<line x1="486" y1="326.7" x2="486" y2="316.9" stroke="#6262FF" stroke-width="1.1"/>
<line x1="475.8" y1="316.9" x2="496.2" y2="316.9" stroke="#6262FF" stroke-width="1.1"/>
<line x1="549" y1="329.9" x2="549" y2="324.3" stroke="#222" stroke-width="0.9"/>
<line x1="538.8" y1="324.3" x2="559.2" y2="324.3" stroke="#222" stroke-width="0.9"/>
<line x1="611.95" y1="323.7" x2="611.95" y2="319.3" stroke="#222" stroke-width="0.9"/>
<line x1="601.75" y1="319.3" x2="622.15" y2="319.3" stroke="#222" stroke-width="0.9"/>
<line x1="454.6" y1="433.66" x2="454.6" y2="594.2" stroke="#000" stroke-width="2"/>
<line x1="449.4" y1="434.51" x2="454.6" y2="434.51" stroke="#000" stroke-width="1.7"/>
<text x="447.8" y="439.91" text-anchor="end" class="tk">200</text>
<line x1="449.4" y1="474.22" x2="454.6" y2="474.22" stroke="#000" stroke-width="1.7"/>
<text x="447.8" y="479.62" text-anchor="end" class="tk">150</text>
<line x1="449.4" y1="513.93" x2="454.6" y2="513.93" stroke="#000" stroke-width="1.7"/>
<text x="447.8" y="519.33" text-anchor="end" class="tk">100</text>
<line x1="449.4" y1="553.64" x2="454.6" y2="553.64" stroke="#000" stroke-width="1.7"/>
<text x="447.8" y="559.04" text-anchor="end" class="tk">50</text>
<line x1="449.4" y1="593.35" x2="454.6" y2="593.35" stroke="#000" stroke-width="1.7"/>
<text x="447.8" y="598.75" text-anchor="end" class="tk">0</text>
<rect x="465.6" y="477.6" width="39.8" height="115.8" fill="#fff" stroke="#6262FF" stroke-width="1.7"/>
<rect x="528.1" y="478.9" width="40" height="114.5" fill="#559FFA" stroke="#000" stroke-width="1.5"/>
<rect x="590.4" y="479" width="40.1" height="114.4" fill="#0000C4" stroke="#000" stroke-width="1.5"/>
<line x1="453.6" y1="593.4" x2="642.5" y2="593.4" stroke="#000" stroke-width="1.6"/>
<circle cx="485.6" cy="457.2" r="3.85" fill="none" stroke="#6262FF" stroke-width="1.2"/>
<circle cx="485.6" cy="466.9" r="3.85" fill="none" stroke="#6262FF" stroke-width="1.2"/>
<circle cx="485.6" cy="504.9" r="3.85" fill="none" stroke="#6262FF" stroke-width="1.2"/>
<circle cx="531.4" cy="472.8" r="3.85" fill="#C5DCF7" stroke="#111" stroke-width="1.1"/>
<circle cx="548.1" cy="474.7" r="3.85" fill="#C5DCF7" stroke="#111" stroke-width="1.1"/>
<circle cx="531.4" cy="484.1" r="3.85" fill="#C5DCF7" stroke="#111" stroke-width="1.1"/>
<circle cx="564.8" cy="479.9" r="3.85" fill="#C5DCF7" stroke="#111" stroke-width="1.1"/>
<circle cx="593.5" cy="454" r="3.85" fill="#5A5AF2" stroke="#111" stroke-width="1.1"/>
<circle cx="627.1" cy="458.6" r="3.85" fill="#5A5AF2" stroke="#111" stroke-width="1.1"/>
<circle cx="610.3" cy="466.4" r="3.85" fill="#5A5AF2" stroke="#111" stroke-width="1.1"/>
<circle cx="610.3" cy="494.1" r="3.85" fill="#5A5AF2" stroke="#111" stroke-width="1.1"/>
<circle cx="627.1" cy="495.9" r="3.85" fill="#5A5AF2" stroke="#111" stroke-width="1.1"/>
<circle cx="593.5" cy="500.3" r="3.85" fill="#5A5AF2" stroke="#111" stroke-width="1.1"/>
<line x1="485.5" y1="477.6" x2="485.5" y2="461.9" stroke="#6262FF" stroke-width="1.1"/>
<line x1="475.3" y1="461.9" x2="495.7" y2="461.9" stroke="#6262FF" stroke-width="1.1"/>
<line x1="548.1" y1="478.9" x2="548.1" y2="474.9" stroke="#222" stroke-width="0.9"/>
<line x1="537.9" y1="474.9" x2="558.3" y2="474.9" stroke="#222" stroke-width="0.9"/>
<line x1="610.45" y1="479" x2="610.45" y2="469.7" stroke="#222" stroke-width="0.9"/>
<line x1="600.25" y1="469.7" x2="620.65" y2="469.7" stroke="#222" stroke-width="0.9"/>
<line x1="454.2" y1="623.66" x2="454.2" y2="784.05" stroke="#000" stroke-width="2"/>
<line x1="449" y1="624.51" x2="454.2" y2="624.51" stroke="#000" stroke-width="1.7"/>
<text x="447.4" y="629.91" text-anchor="end" class="tk">40</text>
<line x1="449" y1="664.18" x2="454.2" y2="664.18" stroke="#000" stroke-width="1.7"/>
<text x="447.4" y="669.58" text-anchor="end" class="tk">30</text>
<line x1="449" y1="703.86" x2="454.2" y2="703.86" stroke="#000" stroke-width="1.7"/>
<text x="447.4" y="709.25" text-anchor="end" class="tk">20</text>
<line x1="449" y1="743.53" x2="454.2" y2="743.53" stroke="#000" stroke-width="1.7"/>
<text x="447.4" y="748.93" text-anchor="end" class="tk">10</text>
<line x1="449" y1="783.2" x2="454.2" y2="783.2" stroke="#000" stroke-width="1.7"/>
<text x="447.4" y="788.6" text-anchor="end" class="tk">0</text>
<rect x="465.2" y="720.6" width="40.2" height="62.6" fill="#fff" stroke="#6262FF" stroke-width="1.7"/>
<rect x="528.1" y="713.2" width="40" height="70" fill="#559FFA" stroke="#000" stroke-width="1.5"/>
<rect x="590" y="718.2" width="40.5" height="65" fill="#0000C4" stroke="#000" stroke-width="1.5"/>
<line x1="453.2" y1="783.2" x2="642" y2="783.2" stroke="#000" stroke-width="1.6"/>
<circle cx="485.4" cy="712.6" r="3.85" fill="none" stroke="#6262FF" stroke-width="1.2"/>
<circle cx="502.3" cy="719.3" r="3.85" fill="none" stroke="#6262FF" stroke-width="1.2"/>
<circle cx="485.4" cy="728" r="3.85" fill="none" stroke="#6262FF" stroke-width="1.2"/>
<circle cx="531" cy="706.3" r="3.85" fill="#C5DCF7" stroke="#111" stroke-width="1.1"/>
<circle cx="547.7" cy="712.3" r="3.85" fill="#C5DCF7" stroke="#111" stroke-width="1.1"/>
<circle cx="531" cy="716.3" r="3.85" fill="#C5DCF7" stroke="#111" stroke-width="1.1"/>
<circle cx="564.4" cy="714.5" r="3.85" fill="#C5DCF7" stroke="#111" stroke-width="1.1"/>
<circle cx="593.5" cy="706.1" r="3.85" fill="#5A5AF2" stroke="#111" stroke-width="1.1"/>
<circle cx="627.1" cy="710.7" r="3.85" fill="#5A5AF2" stroke="#111" stroke-width="1.1"/>
<circle cx="593.5" cy="717.4" r="3.85" fill="#5A5AF2" stroke="#111" stroke-width="1.1"/>
<circle cx="610.2" cy="720.5" r="3.85" fill="#5A5AF2" stroke="#111" stroke-width="1.1"/>
<circle cx="627.1" cy="722.6" r="3.85" fill="#5A5AF2" stroke="#111" stroke-width="1.1"/>
<circle cx="593.5" cy="729.3" r="3.85" fill="#5A5AF2" stroke="#111" stroke-width="1.1"/>
<line x1="485.3" y1="720.6" x2="485.3" y2="715.6" stroke="#6262FF" stroke-width="1.1"/>
<line x1="475.1" y1="715.6" x2="495.5" y2="715.6" stroke="#6262FF" stroke-width="1.1"/>
<line x1="548.1" y1="713.2" x2="548.1" y2="710" stroke="#222" stroke-width="0.9"/>
<line x1="537.9" y1="710" x2="558.3" y2="710" stroke="#222" stroke-width="0.9"/>
<line x1="610.25" y1="718.2" x2="610.25" y2="714.4" stroke="#222" stroke-width="0.9"/>
<line x1="600.05" y1="714.4" x2="620.45" y2="714.4" stroke="#222" stroke-width="0.9"/>
<line x1="454.6" y1="814.12" x2="454.6" y2="975.25" stroke="#000" stroke-width="2"/>
<line x1="449.4" y1="814.97" x2="454.6" y2="814.97" stroke="#000" stroke-width="1.7"/>
<text x="447.8" y="820.37" text-anchor="end" class="tk">200</text>
<line x1="449.4" y1="854.83" x2="454.6" y2="854.83" stroke="#000" stroke-width="1.7"/>
<text x="447.8" y="860.23" text-anchor="end" class="tk">150</text>
<line x1="449.4" y1="894.68" x2="454.6" y2="894.68" stroke="#000" stroke-width="1.7"/>
<text x="447.8" y="900.08" text-anchor="end" class="tk">100</text>
<line x1="449.4" y1="934.54" x2="454.6" y2="934.54" stroke="#000" stroke-width="1.7"/>
<text x="447.8" y="939.94" text-anchor="end" class="tk">50</text>
<line x1="449.4" y1="974.4" x2="454.6" y2="974.4" stroke="#000" stroke-width="1.7"/>
<text x="447.8" y="979.8" text-anchor="end" class="tk">0</text>
<rect x="465.6" y="887.1" width="40.2" height="87.2" fill="#fff" stroke="#6262FF" stroke-width="1.7"/>
<rect x="528.4" y="899.7" width="39.7" height="74.6" fill="#559FFA" stroke="#000" stroke-width="1.5"/>
<rect x="590.7" y="886.1" width="40.8" height="88.2" fill="#0000C4" stroke="#000" stroke-width="1.5"/>
<line x1="453.6" y1="974.3" x2="643" y2="974.3" stroke="#000" stroke-width="1.6"/>
<circle cx="486" cy="871.3" r="3.85" fill="none" stroke="#6262FF" stroke-width="1.2"/>
<circle cx="469.3" cy="895.4" r="3.85" fill="none" stroke="#6262FF" stroke-width="1.2"/>
<circle cx="502.3" cy="892.3" r="3.85" fill="none" stroke="#6262FF" stroke-width="1.2"/>
<circle cx="548.5" cy="886.1" r="3.85" fill="#B8B8F2" stroke="#111" stroke-width="1.1"/>
<circle cx="548.5" cy="899.3" r="3.85" fill="#B8B8F2" stroke="#111" stroke-width="1.1"/>
<circle cx="565.5" cy="898.3" r="3.85" fill="#B8B8F2" stroke="#111" stroke-width="1.1"/>
<circle cx="548.5" cy="912" r="3.85" fill="#B8B8F2" stroke="#111" stroke-width="1.1"/>
<circle cx="594.2" cy="873.2" r="3.85" fill="#5A5AF2" stroke="#111" stroke-width="1.1"/>
<circle cx="610.9" cy="875.3" r="3.85" fill="#5A5AF2" stroke="#111" stroke-width="1.1"/>
<circle cx="627.6" cy="872.8" r="3.85" fill="#5A5AF2" stroke="#111" stroke-width="1.1"/>
<circle cx="594.2" cy="898.7" r="3.85" fill="#5A5AF2" stroke="#111" stroke-width="1.1"/>
<circle cx="610.9" cy="895.9" r="3.85" fill="#5A5AF2" stroke="#111" stroke-width="1.1"/>
<circle cx="627.6" cy="897.3" r="3.85" fill="#5A5AF2" stroke="#111" stroke-width="1.1"/>
<line x1="485.7" y1="887.1" x2="485.7" y2="878.7" stroke="#6262FF" stroke-width="1.1"/>
<line x1="475.5" y1="878.7" x2="495.9" y2="878.7" stroke="#6262FF" stroke-width="1.1"/>
<line x1="548.25" y1="899.7" x2="548.25" y2="893.4" stroke="#222" stroke-width="0.9"/>
<line x1="538.05" y1="893.4" x2="558.45" y2="893.4" stroke="#222" stroke-width="0.9"/>
<line x1="611.1" y1="886.1" x2="611.1" y2="880.2" stroke="#222" stroke-width="0.9"/>
<line x1="600.9" y1="880.2" x2="621.3" y2="880.2" stroke="#222" stroke-width="0.9"/>
<line x1="456.4" y1="1004.19" x2="456.4" y2="1166.12" stroke="#000" stroke-width="2"/>
<line x1="451.2" y1="1005.04" x2="456.4" y2="1005.04" stroke="#000" stroke-width="1.7"/>
<text x="449.6" y="1010.44" text-anchor="end" class="tk">1</text>
<line x1="451.2" y1="1045.1" x2="456.4" y2="1045.1" stroke="#000" stroke-width="1.7"/>
<text x="449.6" y="1050.5" text-anchor="end" class="tk">0</text>
<line x1="451.2" y1="1085.15" x2="456.4" y2="1085.15" stroke="#000" stroke-width="1.7"/>
<text x="449.6" y="1090.56" text-anchor="end" class="tk">-1</text>
<line x1="451.2" y1="1125.21" x2="456.4" y2="1125.21" stroke="#000" stroke-width="1.7"/>
<text x="449.6" y="1130.61" text-anchor="end" class="tk">-2</text>
<line x1="451.2" y1="1165.27" x2="456.4" y2="1165.27" stroke="#000" stroke-width="1.7"/>
<text x="449.6" y="1170.67" text-anchor="end" class="tk">-3</text>
<rect x="467.6" y="1045.1" width="40.6" height="53.9" fill="#fff" stroke="#6262FF" stroke-width="1.7"/>
<rect x="530.7" y="1045.1" width="41.1" height="16.1" fill="#559FFA" stroke="#000" stroke-width="1.5"/>
<rect x="594.1" y="1045.1" width="40.4" height="12.8" fill="#0000C4" stroke="#000" stroke-width="1.5"/>
<line x1="455.4" y1="1045.1" x2="646" y2="1045.1" stroke="#000" stroke-width="1.6"/>
<line x1="455.4" y1="1165.6" x2="646" y2="1165.6" stroke="#000" stroke-width="1.6"/>
<circle cx="488" cy="1089.3" r="3.85" fill="none" stroke="#6262FF" stroke-width="1.2"/>
<circle cx="470.8" cy="1105.5" r="3.85" fill="none" stroke="#6262FF" stroke-width="1.2"/>
<circle cx="504.7" cy="1105.5" r="3.85" fill="none" stroke="#6262FF" stroke-width="1.2"/>
<circle cx="568.1" cy="1044.5" r="3.85" fill="#C5DCF7" stroke="#111" stroke-width="1.1"/>
<circle cx="568.1" cy="1056.9" r="3.85" fill="#C5DCF7" stroke="#111" stroke-width="1.1"/>
<circle cx="551.1" cy="1060.6" r="3.85" fill="#C5DCF7" stroke="#111" stroke-width="1.1"/>
<circle cx="551.1" cy="1085.1" r="3.85" fill="#C5DCF7" stroke="#111" stroke-width="1.1"/>
<circle cx="597.3" cy="1045.1" r="3.85" fill="#5A5AF2" stroke="#111" stroke-width="1.1"/>
<circle cx="614.5" cy="1049.2" r="3.85" fill="#5A5AF2" stroke="#111" stroke-width="1.1"/>
<circle cx="597.3" cy="1057.3" r="3.85" fill="#5A5AF2" stroke="#111" stroke-width="1.1"/>
<circle cx="631.5" cy="1061.4" r="3.85" fill="#5A5AF2" stroke="#111" stroke-width="1.1"/>
<circle cx="614.5" cy="1065.1" r="3.85" fill="#5A5AF2" stroke="#111" stroke-width="1.1"/>
<circle cx="614.5" cy="1073.4" r="3.85" fill="#5A5AF2" stroke="#111" stroke-width="1.1"/>
<line x1="487.9" y1="1099" x2="487.9" y2="1105.5" stroke="#6262FF" stroke-width="1.1"/>
<line x1="477.7" y1="1105.5" x2="498.1" y2="1105.5" stroke="#6262FF" stroke-width="1.1"/>
<line x1="551.25" y1="1061.2" x2="551.25" y2="1070.2" stroke="#222" stroke-width="0.9"/>
<line x1="541.05" y1="1070.2" x2="561.45" y2="1070.2" stroke="#222" stroke-width="0.9"/>
<line x1="614.3" y1="1057.9" x2="614.3" y2="1062.5" stroke="#222" stroke-width="0.9"/>
<line x1="604.1" y1="1062.5" x2="624.5" y2="1062.5" stroke="#222" stroke-width="0.9"/>
<text x="550.8" y="1036.2" text-anchor="middle" class="star">*</text>
<text x="614.5" y="1039.4" text-anchor="middle" class="star">*</text>
<text transform="translate(407.5,190.15) rotate(-90)" class="yt">V<tspan font-size="10" dy="2.8">E</tspan><tspan dy="-2.8"> (mL.kg</tspan><tspan font-size="10" dy="-6.2">-1</tspan><tspan dy="6.2" dx="1">.min</tspan><tspan font-size="10" dy="-6.2">-1</tspan><tspan dy="6.2" dx="1">)</tspan></text>
<circle cx="393.9" cy="185.55" r="1.1" fill="#000"/>
<text transform="translate(420.6,361.93) rotate(-90)" class="yt">V<tspan font-size="10" dy="2.8">T</tspan><tspan dy="-2.8"> (mL.kg</tspan><tspan font-size="10" dy="-6.2">-1</tspan><tspan dy="6.2" dx="1">)</tspan></text>
<text transform="translate(414.4,569.7) rotate(-90)" class="yt">f<tspan font-size="10" dy="2.8">R</tspan><tspan dy="-2.8"> (breaths.min</tspan><tspan font-size="10" dy="-6.2">-1</tspan><tspan dy="6.2" dx="1">)</tspan></text>
<text transform="translate(422.8,766.3) rotate(-90)" class="yt">VO<tspan font-size="10" dy="2.8">2</tspan><tspan dy="-2.8"> (mL.kg</tspan><tspan font-size="10" dy="-6.2">-1</tspan><tspan dy="6.2" dx="1">.min</tspan><tspan font-size="10" dy="-6.2">-1</tspan><tspan dy="6.2" dx="1">)</tspan></text>
<circle cx="407.9" cy="761.5" r="1.1" fill="#000"/>
<text transform="translate(414.6,921.2) rotate(-90)" class="yt" style="font-size:15px">V<tspan font-size="10" dy="2.8">E</tspan><tspan dy="-2.8"> / VO</tspan><tspan font-size="10" dy="2.8">2</tspan></text>
<circle cx="399.3" cy="919.2" r="1.1" fill="#000"/>
<circle cx="399.3" cy="888.5" r="1.1" fill="#000"/>
<path d="M408.3,1107.3 L419.9,1102.2" stroke="#000" stroke-width="1.5" fill="none"/>
<path d="M408.3,1107.3 L419.9,1112.3" stroke="#000" stroke-width="0.8" fill="none"/>
<path d="M419.7,1101.6 L419.7,1112.8" stroke="#000" stroke-width="1.4" fill="none"/>
<text transform="translate(420.3,1101) rotate(-90)" class="yt">T<tspan font-size="10" dy="3.2" dx="1.3">B</tspan><tspan dy="-3.2" dx="0.5"> (</tspan>ºC)</text>
</svg>
</body></html>
